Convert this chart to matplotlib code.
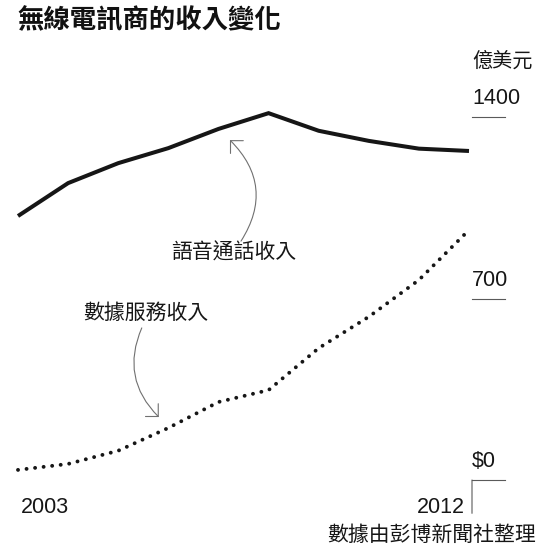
import matplotlib
matplotlib.use('Agg')
import matplotlib.pyplot as plt
import matplotlib.transforms as mtransforms
from matplotlib.patches import FancyArrowPatch

# revenue of wireless carriers, 100m USD
years = [2003, 2004, 2005, 2006, 2007, 2008, 2009, 2010, 2011, 2012]
voice = [1019, 1146, 1223, 1281, 1355, 1416, 1348, 1309, 1279, 1270]
data_rev = [39, 62, 113, 201, 301, 347, 509, 630, 772, 965]

tick_vals = [0, 700, 1400]
tick_labels = ['$0', '700', '1400']

title = '無線電訊商的收入變化'
unit = '億美元'
voice_label = '語音通話收入'
data_label = '數據服務收入'
source = '數據由彭博新聞社整理'

W, H = 550, 548
CJK = ['Noto Sans CJK TC', 'DejaVu Sans']
NUM = ['Liberation Sans', 'DejaVu Sans']
INK = '#161616'

fig = plt.figure(figsize=(W / 100, H / 100), dpi=100)
fig.patch.set_facecolor('white')

# axes box in pixels: x 18..469, y(0)=480, y(1400)=117.3
ax = fig.add_axes([18 / W, (H - 480) / H, 451 / W, (480 - 117.3) / H])
ax.set_xlim(years[0], years[-1])
ax.set_ylim(0, 1400)
ax.axis('off')

ax.plot(years, voice, color=INK, lw=2.9, solid_joinstyle='miter',
        solid_capstyle='butt', clip_on=False)
ax.plot(years, data_rev, color=INK, lw=2.8, linestyle=(0, (0.01, 2.2)),
        dash_capstyle='round', clip_on=False)

# right-hand value scale
bt = mtransforms.blended_transform_factory(ax.transAxes, ax.transData)
x0 = 1 + 3 / 451
x1 = 1 + 36 / 451
for v, lab in zip(tick_vals, tick_labels):
    ax.plot([x0, x1], [v, v], color='#5a5a5a', lw=0.8, transform=bt, clip_on=False)
    ax.annotate(lab, xy=(x0, v), xycoords=bt, xytext=(0, 9.4),
                textcoords='offset points', ha='left', va='baseline',
                fontsize=15.5, family=NUM, color=INK)
ax.annotate('', xy=(x0, 0), xycoords=bt, xytext=(0, -24), textcoords='offset points',
            arrowprops=dict(arrowstyle='-', color='#5a5a5a', lw=0.8,
                            shrinkA=0, shrinkB=0))

# year labels
ax.annotate(str(years[0]), xy=(years[0], 0), xytext=(2.2, -24),
            textcoords='offset points', ha='left', va='baseline',
            fontsize=15.5, family=NUM, color=INK)
ax.annotate(str(years[-1]), xy=(years[-1], 0), xytext=(-3, -24),
            textcoords='offset points', ha='right', va='baseline',
            fontsize=15.5, family=NUM, color=INK)

# annotations with curved arrows
ax.text(2007.31, 876, voice_label, ha='center', va='center',
        fontsize=15, family=CJK, color=INK)
ax.text(2005.55, 644, data_label, ha='center', va='center',
        fontsize=15, family=CJK, color=INK)

arr = dict(arrowstyle='->,head_length=6.5,head_width=6.5', color='#707070',
           lw=0.8, mutation_scale=1, shrinkA=0, shrinkB=0)
ax.add_patch(FancyArrowPatch((2007.45, 922), (2007.23, 1312),
                             connectionstyle='arc3,rad=0.40', clip_on=False, **arr))
ax.add_patch(FancyArrowPatch((2005.47, 587), (2005.81, 243),
                             connectionstyle='arc3,rad=0.34', clip_on=False, **arr))

# title, unit and source
fig.text(17 / W, 1 - 21 / H, title, ha='left', va='center', fontsize=19,
         fontweight='heavy', family=CJK, color='#111111')
fig.text(472 / W, 1 - 61 / H, unit, ha='left', va='center', fontsize=14.5,
         family=CJK, color=INK)
fig.text(536 / W, 1 - 535 / H, source, ha='right', va='center', fontsize=15,
         family=CJK, color=INK)

fig.savefig('out.png', dpi=100, facecolor='white')
